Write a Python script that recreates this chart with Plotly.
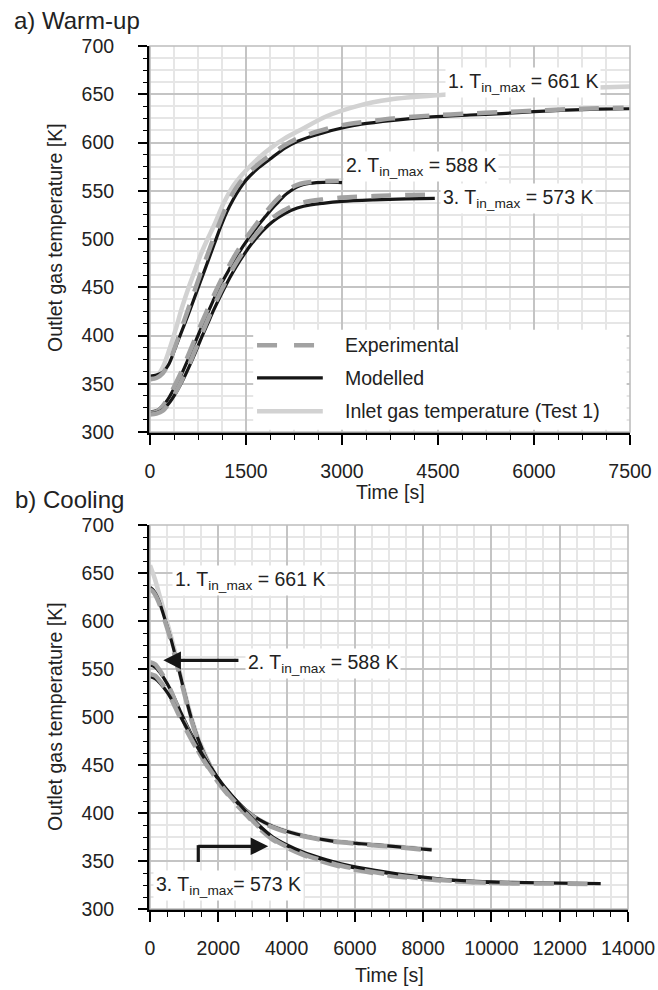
import plotly.graph_objects as go

# ---------------- data: a) Warm-up ----------------
warm_t_in = [0, 100, 200, 300, 400, 500, 600, 700, 800, 900, 1000, 1150, 1300, 1500, 1700, 1900, 2100, 2350, 2750, 3250, 3750, 4500, 5500, 6500, 7500]
warm_T_in = [354, 357, 367, 385, 406, 429, 449, 467, 485, 500, 514, 537, 555, 571, 584, 595, 604, 613, 627, 638, 644.5, 649, 653, 656, 658]

warm_t_m1 = [0, 100, 200, 300, 400, 500, 600, 700, 800, 900, 1000, 1100, 1200, 1300, 1400, 1500, 1700, 1900, 2100, 2300, 2500, 2700, 3000, 3300, 3800, 4400, 5000, 5500, 6000, 6500, 7000, 7500]
warm_T_m1 = [358, 359, 362, 371, 388, 405, 422, 440, 458, 476, 494, 512, 528, 541, 552, 561, 574, 584, 594, 601, 606, 610, 615, 619, 623, 626.5, 628.5, 630, 632, 633.5, 634.5, 635]

warm_t_e1 = [0, 100, 200, 300, 400, 500, 600, 700, 800, 900, 1000, 1100, 1200, 1300, 1400, 1500, 1700, 1900, 2100, 2300, 2500, 2700, 3000, 3300, 3800, 4400, 5000, 5500, 6000, 6500, 7000, 7400]
warm_T_e1 = [355, 356, 361, 372, 390, 409, 428, 447, 466, 484, 502, 519, 535, 548, 558, 566, 578, 588, 597, 604, 609, 613, 618, 621, 625, 628, 630, 631.5, 633, 634.5, 635.5, 636]

warm_t_m2 = [0, 100, 200, 300, 400, 500, 600, 700, 800, 900, 1000, 1100, 1200, 1300, 1400, 1500, 1600, 1700, 1800, 1900, 2000, 2100, 2200, 2300, 2400, 2600, 2800, 3000]
warm_T_m2 = [321, 322, 327, 336, 348, 361, 376, 392, 408, 423, 438, 452, 464, 476, 487, 497, 506, 515, 523, 531, 538, 545, 550, 554, 556.5, 558.5, 559, 558.5]

warm_t_e2 = [0, 100, 200, 300, 400, 500, 600, 700, 800, 900, 1000, 1100, 1200, 1300, 1400, 1500, 1600, 1700, 1800, 1900, 2000, 2100, 2200, 2300, 2400, 2600, 2800, 2950]
warm_T_e2 = [320, 321, 327, 337, 350, 364, 380, 396, 412, 427, 442, 456, 468, 480, 491, 501, 510, 519, 527, 535, 542, 548, 553, 556, 558, 559.5, 560, 560]

warm_t_m3 = [0, 100, 200, 300, 400, 500, 600, 700, 800, 900, 1000, 1100, 1200, 1300, 1400, 1500, 1600, 1700, 1800, 1900, 2000, 2100, 2200, 2400, 2700, 3000, 3500, 4000, 4450]
warm_T_m3 = [319, 320, 323, 330, 340, 352, 366, 381, 397, 412, 427, 441, 454, 466, 477, 487, 496, 504, 511, 517, 522, 526, 529.5, 534, 537, 539, 540.5, 541.5, 542]

warm_t_e3 = [0, 100, 200, 300, 400, 500, 600, 700, 800, 900, 1000, 1100, 1200, 1300, 1400, 1500, 1600, 1700, 1800, 1900, 2000, 2100, 2200, 2400, 2700, 3000, 3500, 4000, 4450]
warm_T_e3 = [318, 319, 322, 330, 341, 354, 368, 384, 400, 416, 431, 445, 458, 470, 481, 491, 500, 508, 515, 521, 526, 530, 533.5, 538, 541, 543, 544.5, 545.5, 546]

# ---------------- data: b) Cooling ----------------
cool_t_in = [0, 150, 300, 450, 600, 800, 1000, 1200, 1400, 1650, 1900, 2150, 2500, 2850, 3200, 3600, 4100, 4600, 5300, 6200, 7200, 8250]
cool_T_in = [658, 643, 624, 605, 586, 558, 528, 501, 479, 458, 441, 428, 413, 401, 393, 386, 380, 375.5, 371, 368, 365, 362]

cool_t_m1 = [0, 100, 250, 400, 600, 800, 1000, 1200, 1400, 1650, 1900, 2150, 2500, 2850, 3200, 3600, 4100, 4600, 5300, 6200, 7200, 8250]
cool_T_m1 = [635, 632, 622, 606, 583, 556, 527, 500, 478, 457, 441, 428, 414, 402, 393, 386, 380, 375.5, 371, 368, 365, 361.5]

cool_t_e1 = [0, 100, 250, 400, 600, 800, 1000, 1200, 1400, 1650, 1900, 2150, 2500, 2850, 3200, 3600, 4100, 4600, 5300, 6200, 7200, 8200]
cool_T_e1 = [633, 630, 620, 604, 581, 553, 525, 498, 476, 455, 439, 426, 412, 401, 392, 385, 379, 375, 370.5, 367.5, 364.5, 361]

cool_t_m2 = [0, 150, 300, 500, 700, 900, 1100, 1300, 1500, 1800, 2100, 2500, 2850, 3200, 3600, 4000, 4500, 5000, 5600, 6300, 7000, 7800, 8600, 9400, 10200, 10800]
cool_T_m2 = [554, 552, 546, 535, 521, 505, 490, 476, 463, 446, 430, 413, 399, 386, 374, 366, 358, 352, 346, 341, 337, 333.5, 330.5, 328.5, 327.5, 327]

cool_t_e2 = [0, 150, 300, 500, 700, 900, 1100, 1300, 1500, 1800, 2100, 2500, 2850, 3200, 3600, 4000, 4500, 5000, 5600, 6300, 7000, 7800, 8600, 9400, 10200, 10700]
cool_T_e2 = [557, 555, 548, 536, 520, 503, 487, 472, 459, 442, 427, 410, 397, 384, 372, 364, 356, 350, 344, 339, 335, 332, 329.5, 328, 327, 326.5]

cool_t_m3 = [0, 150, 300, 500, 700, 900, 1100, 1300, 1500, 1800, 2100, 2500, 2850, 3200, 3600, 4000, 4500, 5000, 5600, 6300, 7000, 7800, 8600, 9400, 10200, 11000, 12000, 13200]
cool_T_m3 = [542, 540, 535, 526, 514, 500, 487, 474, 462, 446, 431, 414, 400, 387, 375, 367, 359, 353, 347, 342, 338, 334, 331, 329, 328, 327.5, 327, 326.5]

cool_t_e3 = [0, 150, 300, 500, 700, 900, 1100, 1300, 1500, 1800, 2100, 2500, 2850, 3200, 3600, 4000, 4500, 5000, 5600, 6300, 7000, 7800, 8600, 9400, 10200, 11000, 12000, 13100]
cool_T_e3 = [545, 543, 537, 527, 513, 498, 484, 471, 459, 443, 428, 411, 398, 385, 373, 365, 357, 351, 345, 340, 336, 332.5, 330, 328, 327, 326.5, 326.5, 326]

legend_labels = ["Experimental", "Modelled", "Inlet gas temperature (Test 1)"]
warm_xticks = [0, 1500, 3000, 4500, 6000, 7500]
cool_xticks = [0, 2000, 4000, 6000, 8000, 10000, 12000, 14000]
yticks = [300, 350, 400, 450, 500, 550, 600, 650, 700]

# ---------------- style ----------------
EXP_C = "#a2a2a2"
MOD_C = "#161616"
IN_C = "#d2d2d2"
TXT_C = "#222222"
FONT = "Liberation Sans, Arial, sans-serif"
FS = 19.5
W, H = 658, 990

fig = go.Figure()


def line(t, T, kind, xa, ya):
    if kind == "in":
        ln = dict(color=IN_C, width=4.5)
    elif kind == "mod":
        ln = dict(color=MOD_C, width=3.2)
    else:
        ln = dict(color=EXP_C, width=4.5, dash="20px,14px")
    ln["shape"] = "spline"
    ln["smoothing"] = 0.8
    fig.add_trace(go.Scatter(x=t, y=T, mode="lines", line=ln, xaxis=xa, yaxis=ya,
                             showlegend=False, hoverinfo="skip"))


for xa, ya, sets in [
    ("x", "y", [(warm_t_in, warm_T_in, "in"),
                (warm_t_m1, warm_T_m1, "mod"), (warm_t_e1, warm_T_e1, "exp"),
                (warm_t_m2, warm_T_m2, "mod"), (warm_t_e2, warm_T_e2, "exp"),
                (warm_t_m3, warm_T_m3, "mod"), (warm_t_e3, warm_T_e3, "exp")]),
    ("x2", "y2", [(cool_t_in, cool_T_in, "in"),
                  (cool_t_m1, cool_T_m1, "mod"), (cool_t_e1, cool_T_e1, "exp"),
                  (cool_t_m2, cool_T_m2, "mod"), (cool_t_e2, cool_T_e2, "exp"),
                  (cool_t_m3, cool_T_m3, "mod"), (cool_t_e3, cool_T_e3, "exp")]),
]:
    for t, T, k in sets:
        line(t, T, k, xa, ya)


def xaxis(domain, anchor, rng, ticks, minor_dt):
    return dict(domain=domain, anchor=anchor, range=rng, tickmode="array", tickvals=ticks,
                ticktext=[str(v) for v in ticks], automargin=False,
                ticks="outside", ticklen=10, tickwidth=1.5, tickcolor="black",
                showline=True, linecolor="black", linewidth=3,
                showgrid=True, gridcolor="#c4c4c4", gridwidth=1.6, zeroline=False,
                minor=dict(dtick=minor_dt, tick0=0, ticks="outside", ticklen=5, tickwidth=1.2,
                           tickcolor="black", showgrid=True, gridcolor="#e6e6e6", gridwidth=1.6),
                tickfont=dict(family=FONT, size=FS, color=TXT_C), ticklabelstandoff=10,
                fixedrange=True)


def yaxis(domain, anchor):
    return dict(domain=domain, anchor=anchor, range=[300, 700], tickmode="array", tickvals=yticks,
                ticktext=[str(v) for v in yticks], automargin=False,
                ticks="outside", ticklen=9, tickwidth=1.5, tickcolor="black",
                showline=True, linecolor="black", linewidth=3,
                showgrid=True, gridcolor="#c4c4c4", gridwidth=1.6, zeroline=False,
                minor=dict(dtick=12.5, tick0=300, ticks="outside", ticklen=4, tickwidth=1.2,
                           tickcolor="black", showgrid=True, gridcolor="#e6e6e6", gridwidth=1.6),
                tickfont=dict(family=FONT, size=FS, color=TXT_C), ticklabelstandoff=20,
                fixedrange=True)


xd1 = [150 / W, 630 / W]
yd1 = [(H - 432) / H, (H - 46) / H]
xd2 = [150 / W, 628 / W]
yd2 = [(H - 909) / H, (H - 525) / H]

shapes = []
for xr, yr in [("x domain", "y domain"), ("x2 domain", "y2 domain")]:
    shapes.append(dict(type="rect", xref=xr, yref=yr, x0=0, x1=1, y0=0, y1=1,
                       line=dict(color="#bdbdbd", width=1.6), layer="above"))

# custom legend (top panel)
shapes.append(dict(type="rect", xref="x domain", yref="y domain", x0=0.215, x1=0.993, y0=0.006, y1=0.265,
                   fillcolor="white", line=dict(width=0), layer="above"))
leg_y = [0.225, 0.140, 0.054]
leg_style = [dict(color=EXP_C, width=4.5, dash="20px,17px"), dict(color=MOD_C, width=3.2),
             dict(color=IN_C, width=4.5)]
annotations = []
for lab, yy, st in zip(legend_labels, leg_y, leg_style):
    shapes.append(dict(type="line", xref="x domain", yref="y domain", x0=0.223, x1=0.36, y0=yy, y1=yy,
                       line=st, layer="above"))
    annotations.append(dict(text=lab, xref="x domain", yref="y domain", x=0.402, y=yy, xanchor="left",
                            yanchor="middle", showarrow=False, font=dict(family=FONT, size=FS, color=TXT_C)))

# elbow arrow in cooling panel (vertical part)
shapes.append(dict(type="line", xref="x2", yref="y2", x0=1414, x1=1414, y0=349, y1=366.5,
                   line=dict(color=MOD_C, width=3.2), layer="above"))

lab_font = dict(family=FONT, size=FS, color=TXT_C)


def label(text, x, y, xr, yr):
    annotations.append(dict(text=text, x=x, y=y, xref=xr, yref=yr, xanchor="left", yanchor="middle",
                            showarrow=False, bgcolor="white", borderpad=2, font=lab_font))


label("1. T<sub>in_max</sub> = 661 K", 4609, 662.4, "x", "y")
label("2. T<sub>in_max</sub> = 588 K", 3016, 575.5, "x", "y")
label("3. T<sub>in_max</sub> = 573 K", 4531, 542.3, "x", "y")
label("1. T<sub>in_max</sub> = 661 K", 635, 642.4, "x2", "y2")
label("2. T<sub>in_max</sub> = 588 K", 2780, 555.6, "x2", "y2")
label("3. T<sub>in_max</sub>= 573 K", 97, 324.7, "x2", "y2")

# arrows
annotations.append(dict(text="", x=390, y=559, ax=2634, ay=559, xref="x2", yref="y2", axref="x2", ayref="y2",
                        showarrow=True, arrowhead=2, arrowsize=1.1, arrowwidth=3.2, arrowcolor=MOD_C, standoff=0))
annotations.append(dict(text="", x=3463, y=365.3, ax=1370, ay=365.3, xref="x2", yref="y2", axref="x2", ayref="y2",
                        showarrow=True, arrowhead=2, arrowsize=1.1, arrowwidth=3.2, arrowcolor=MOD_C, standoff=0))

# panel titles & axis titles
annotations += [
    dict(text="a) Warm-up", xref="paper", yref="paper", x=12 / W, y=1 - 20 / H, xanchor="left", yanchor="middle",
         showarrow=False, font=dict(family=FONT, size=24, color=TXT_C)),
    dict(text="b) Cooling", xref="paper", yref="paper", x=13 / W, y=1 - 499 / H, xanchor="left", yanchor="middle",
         showarrow=False, font=dict(family=FONT, size=24, color=TXT_C)),
    dict(text="Time [s]", xref="paper", yref="paper", x=390 / W, y=1 - 492 / H, xanchor="center", yanchor="middle",
         showarrow=False, font=lab_font),
    dict(text="Time [s]", xref="paper", yref="paper", x=389 / W, y=1 - 975 / H, xanchor="center", yanchor="middle",
         showarrow=False, font=lab_font),
    dict(text="Outlet gas temperature [K]", xref="paper", yref="paper", x=55 / W, y=1 - 238 / H, xanchor="center",
         yanchor="middle", textangle=-90, showarrow=False, font=lab_font),
    dict(text="Outlet gas temperature [K]", xref="paper", yref="paper", x=55 / W, y=1 - 717 / H, xanchor="center",
         yanchor="middle", textangle=-90, showarrow=False, font=lab_font),
]

fig.update_layout(
    width=W, height=H, margin=dict(l=0, r=0, t=0, b=0, autoexpand=False),
    paper_bgcolor="white", plot_bgcolor="white", showlegend=False,
    xaxis=xaxis(xd1, "y", [0, 7500], warm_xticks, 375),
    yaxis=yaxis(yd1, "x"),
    xaxis2=xaxis(xd2, "y2", [0, 14000], cool_xticks, 500),
    yaxis2=yaxis(yd2, "x2"),
    shapes=shapes, annotations=annotations,
    font=dict(family=FONT, color=TXT_C),
)

fig.write_html("out.html")
